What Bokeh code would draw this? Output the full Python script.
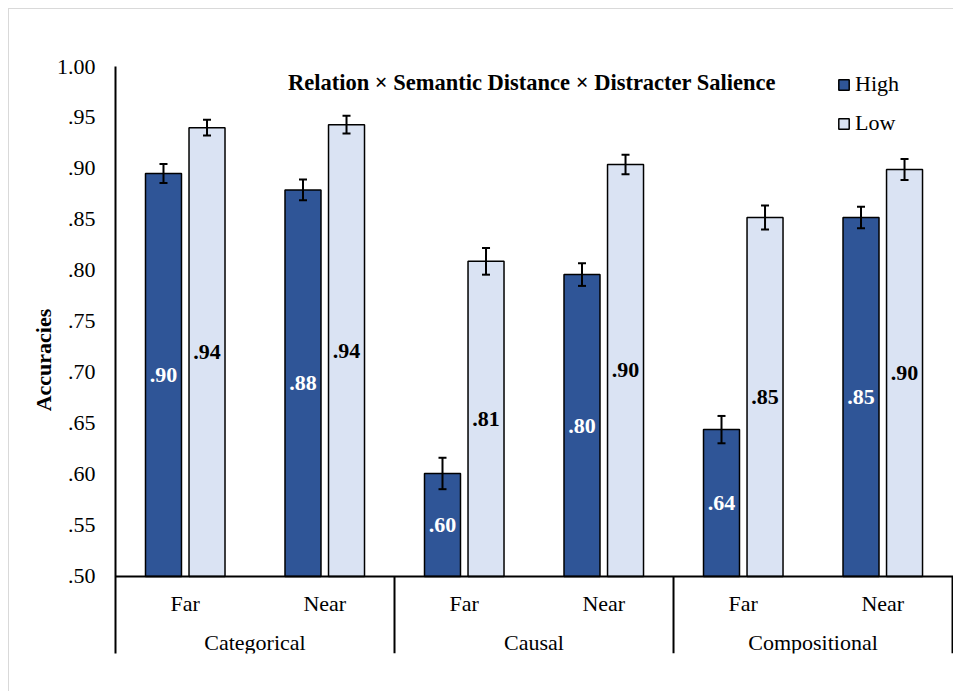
from bokeh.plotting import figure
from bokeh.models import (Range1d, ColumnDataSource, Whisker, TeeHead, FixedTicker,
                          CustomJSTickFormatter, Label, Legend, LegendItem, Span)
from bokeh.core.properties import value
from bokeh.embed import file_html
from bokeh.resources import INLINE

# ---- data ----
groups = ["Categorical", "Causal", "Compositional"]
distances = ["Far", "Near"]
high_vals = [0.895, 0.879, 0.601, 0.796, 0.644, 0.852]
high_err = [0.0093, 0.0102, 0.0154, 0.0111, 0.0134, 0.0105]
low_vals = [0.940, 0.943, 0.809, 0.904, 0.852, 0.899]
low_err = [0.0077, 0.0088, 0.0131, 0.0096, 0.0118, 0.0103]
y_ticks = [0.50, 0.55, 0.60, 0.65, 0.70, 0.75, 0.80, 0.85, 0.90, 0.95, 1.00]
title_text = "Relation \u00d7 Semantic Distance \u00d7 Distracter Salience"
series_names = ["High", "Low"]

HIGH_COLOR = "#2F5597"
LOW_COLOR = "#DAE3F3"
FONT = "Liberation Serif"
FS = "22px"

n = len(groups) * len(distances)
centers = [i + 0.5 for i in range(n)]
offset = 0.156
bar_w = 0.258
base = 0.5
y_bottom = 0.4245

def fmt(v):
    return ("%.2f" % v).lstrip("0")

p = figure(width=953, height=691, output_backend="svg", toolbar_location=None,
           x_range=Range1d(0, 6.007), y_range=Range1d(y_bottom, 1.0),
           min_border_left=115, min_border_top=66, min_border_bottom=38, min_border_right=0)
p.xaxis.visible = False
p.xgrid.visible = False
p.ygrid.visible = False
p.outline_line_color = None
p.background_fill_color = "white"
p.border_fill_color = "white"
p.border_fill_alpha = 0
p.styles = {
    "background-color": "white",
    "background-image": "linear-gradient(#d9d9d9, #d9d9d9), linear-gradient(#d9d9d9, #d9d9d9)",
    "background-size": "1px 100%, 100% 1px",
    "background-position": "8px 8px, 8px 8px",
    "background-repeat": "no-repeat",
}

yax = p.yaxis[0]
yax.ticker = FixedTicker(ticks=y_ticks)
yax.formatter = CustomJSTickFormatter(code="var s = tick.toFixed(2); return tick < 1 ? s.substring(1) : s;")
yax.major_tick_line_color = None
yax.minor_tick_line_color = None
yax.major_tick_out = 0
yax.major_tick_in = 0
yax.major_label_standoff = 20
yax.major_label_text_font = FONT
yax.major_label_text_font_size = FS
yax.major_label_text_color = "black"
yax.axis_line_color = "black"
yax.axis_line_width = 2
yax.axis_label = "Accuracies"
yax.axis_label_text_font = FONT
yax.axis_label_text_font_size = FS
yax.axis_label_text_font_style = "bold"
yax.axis_label_text_color = "black"
yax.axis_label_standoff = -2

hx = [c - offset for c in centers]
lx = [c + offset for c in centers]
hsrc = ColumnDataSource(dict(x=hx, top=high_vals, up=[v + e for v, e in zip(high_vals, high_err)],
                             lo=[v - e for v, e in zip(high_vals, high_err)],
                             ym=[(base + v) / 2 for v in high_vals], lab=[fmt(v) for v in high_vals]))
lsrc = ColumnDataSource(dict(x=lx, top=low_vals, up=[v + e for v, e in zip(low_vals, low_err)],
                             lo=[v - e for v, e in zip(low_vals, low_err)],
                             ym=[(base + v) / 2 for v in low_vals], lab=[fmt(v) for v in low_vals]))

rh = p.vbar(x="x", top="top", bottom=base, width=bar_w, source=hsrc,
            fill_color=HIGH_COLOR, line_color="black", line_width=1.5)
rl = p.vbar(x="x", top="top", bottom=base, width=bar_w, source=lsrc,
            fill_color=LOW_COLOR, line_color="black", line_width=1.5)

for src in (hsrc, lsrc):
    w = Whisker(base="x", upper="up", lower="lo", source=src, dimension="height",
                line_color="black", line_width=2, level="overlay",
                upper_head=TeeHead(size=8, line_color="black", line_width=2),
                lower_head=TeeHead(size=8, line_color="black", line_width=2))
    p.add_layout(w)

p.text(x="x", y="ym", text="lab", source=hsrc, text_color="white",
       text_font=value(FONT), text_font_size=FS, text_font_style="bold",
       text_align="center", text_baseline="middle")
p.text(x="x", y="ym", text="lab", source=lsrc, text_color="black",
       text_font=value(FONT), text_font_size=FS, text_font_style="bold",
       text_align="center", text_baseline="middle")

# baseline of the category axis
p.add_layout(Span(location=base, dimension="width", line_color="black", line_width=2))

# category labels
sub_labels = [d for g in groups for d in distances]
p.text(x=centers, y=[0.4738] * n, text=sub_labels, text_font=value(FONT), text_font_size=FS,
       text_align="center", text_baseline="middle", text_color="black")
gcent = [len(distances) * (i + 0.5) for i in range(len(groups))]
p.text(x=gcent, y=[0.4356] * len(groups), text=groups, text_font=value(FONT), text_font_size=FS,
       text_align="center", text_baseline="middle", text_color="black")
sep_x = [len(distances) * (i + 1) for i in range(len(groups))]
p.segment(x0=sep_x, x1=sep_x, y0=[base] * len(sep_x), y1=[y_bottom] * len(sep_x),
          line_color="black", line_width=2)

# title inside plot
p.add_layout(Label(x=2.985, y=0.9846, text=title_text, text_font=FONT, text_font_size="22.5px",
                   text_font_style="bold", text_align="center", text_baseline="middle",
                   text_color="black"))

legend = Legend(items=[LegendItem(label=series_names[0], renderers=[rh]),
                       LegendItem(label=series_names[1], renderers=[rl])],
                location=(722, 517), orientation="vertical",
                glyph_width=13, glyph_height=13, label_text_font=FONT, label_text_font_size=FS,
                label_text_color="black", label_standoff=5, spacing=13, padding=0, margin=0,
                border_line_color=None, background_fill_alpha=0, label_height=25)
p.add_layout(legend)

open("out.html", "w").write(file_html(p, INLINE))
